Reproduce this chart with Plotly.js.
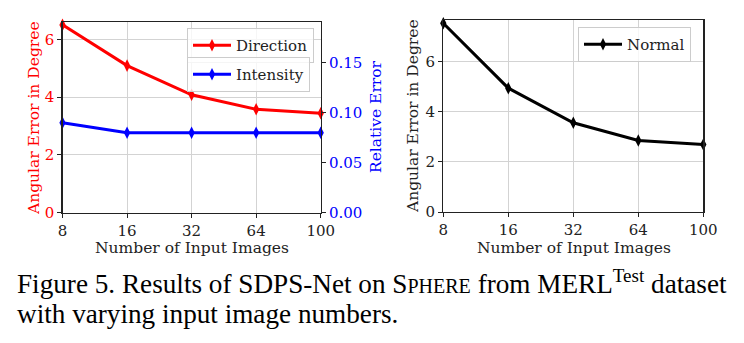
<!DOCTYPE html>
<html>
<head>
<meta charset="utf-8">
<script src="https://cdn.plot.ly/plotly-3.0.1.min.js"></script>
<style>html,body{margin:0;padding:0;background:#fff;}#chart{width:744px;height:343px;}</style>
</head>
<body>
<div id="chart"></div>
<script>
const inputImages = ["8", "16", "32", "64", "100"];
const directionErr = [6.50, 5.09, 4.08, 3.58, 3.44];
const intensityErr = [0.090, 0.080, 0.080, 0.080, 0.080];
const normalErr = [7.53, 4.94, 3.56, 2.85, 2.69];
const leftTicks = [0, 2, 4, 6];
const rightTicks = [0, 0.05, 0.10, 0.15];
const rightTickText = ["0.00", "0.05", "0.10", "0.15"];
const normalTicks = [0, 2, 4, 6];

const W = 744, H = 343;
const px = v => v / W;
const py = v => 1 - v / H;
const serif = "DejaVu Serif";
const tickFont = (c) => ({family: serif, size: 15, color: c});

const traces = [
  {x: inputImages, y: directionErr, name: "Direction", xaxis: "x", yaxis: "y",
   mode: "lines+markers", line: {color: "#ff0000", width: 3},
   marker: {symbol: "diamond-tall", size: 9, color: "#ff0000"}, legend: "legend", cliponaxis: false},
  {x: inputImages, y: intensityErr, name: "Intensity", xaxis: "x", yaxis: "y2",
   mode: "lines+markers", line: {color: "#0000ff", width: 3},
   marker: {symbol: "diamond-tall", size: 9, color: "#0000ff"}, legend: "legend2", cliponaxis: false},
  {x: inputImages, y: normalErr, name: "Normal", xaxis: "x2", yaxis: "y3",
   mode: "lines+markers", line: {color: "#000000", width: 3},
   marker: {symbol: "diamond-tall", size: 9, color: "#000000"}, legend: "legend3", cliponaxis: false}
];

const xCommon = {
  type: "category", categoryorder: "array", categoryarray: inputImages,
  range: [0, 4], showline: true, mirror: true, linecolor: "#222", linewidth: 1.2,
  ticks: "outside", ticklen: 4, tickcolor: "#222", tickfont: tickFont("#222"),
  showgrid: true, gridcolor: "#d3d3d3", gridwidth: 1, zeroline: false
};

const legendCommon = {
  xanchor: "left", yanchor: "top", bgcolor: "rgba(255,255,255,0.8)",
  bordercolor: "#cccccc", borderwidth: 1, font: {family: serif, size: 15, color: "#222"},
  itemwidth: 38, tracegroupgap: 0
};

function title(text, x, y, color, angle) {
  return {xref: "paper", yref: "paper", x: px(x), y: py(y), xanchor: "center", yanchor: "middle",
    showarrow: false, textangle: angle, text: text,
    font: {family: serif, size: 15.5, color: color}};
}
function caption(text, y) {
  return {xref: "paper", yref: "paper", x: px(15), y: py(y), xanchor: "left", yanchor: "middle",
    align: "left", showarrow: false, text: text,
    font: {family: "Liberation Serif", size: 27.2, color: "#000"}};
}

const layout = {
  width: W, height: H, margin: {l: 0, r: 0, t: 0, b: 0},
  paper_bgcolor: "#fff", plot_bgcolor: "#fff", showlegend: true,
  xaxis: Object.assign({}, xCommon, {domain: [px(62.5), px(320.7)], anchor: "y"}),
  yaxis: {domain: [py(212.7), py(21.7)], range: [0, 6.61], anchor: "x",
    tickvals: leftTicks, ticks: "outside", ticklen: 4, tickcolor: "#222",
    tickfont: tickFont("#ff0000"), showline: true, linecolor: "#222", linewidth: 1.2,
    showgrid: true, gridcolor: "#d3d3d3", zeroline: false},
  yaxis2: {overlaying: "y", side: "right", anchor: "x", range: [0, 0.191],
    tickvals: rightTicks, ticktext: rightTickText, ticks: "outside", ticklen: 4, tickcolor: "#222",
    tickfont: tickFont("#0000ff"), showline: true, linecolor: "#222", linewidth: 1.2,
    showgrid: false, zeroline: false},
  xaxis2: Object.assign({}, xCommon, {domain: [px(443.3), px(703.3)], anchor: "y3"}),
  yaxis3: {domain: [py(212), py(20)], range: [0, 7.66], anchor: "x2",
    tickvals: normalTicks, ticks: "outside", ticklen: 4, tickcolor: "#222",
    tickfont: tickFont("#222"), showline: true, mirror: true, linecolor: "#222", linewidth: 1.2,
    showgrid: true, gridcolor: "#d3d3d3", zeroline: false},
  legend: Object.assign({}, legendCommon, {x: px(187), y: py(28)}),
  legend2: Object.assign({}, legendCommon, {x: px(187), y: py(57)}),
  legend3: Object.assign({}, legendCommon, {x: px(578), y: py(27)}),
  annotations: [
    title("Number of Input Images", 192, 248, "#222", 0),
    title("Number of Input Images", 574, 248, "#222", 0),
    title("Angular Error in Degree", 34, 118, "#ff0000", -90),
    title("Relative Error", 376, 117, "#0000ff", -90),
    title("Angular Error in Degree", 413, 116, "#222", -90),
    caption("Figure 5. Results of SDPS-Net on S<span style='font-size:20px'>PHERE</span> from MERL<sup>Test</sup> dataset", 282),
    caption("with varying input image numbers.", 314)
  ]
};

Plotly.newPlot("chart", traces, layout, {staticPlot: true, displayModeBar: false});
</script>
</body>
</html>
